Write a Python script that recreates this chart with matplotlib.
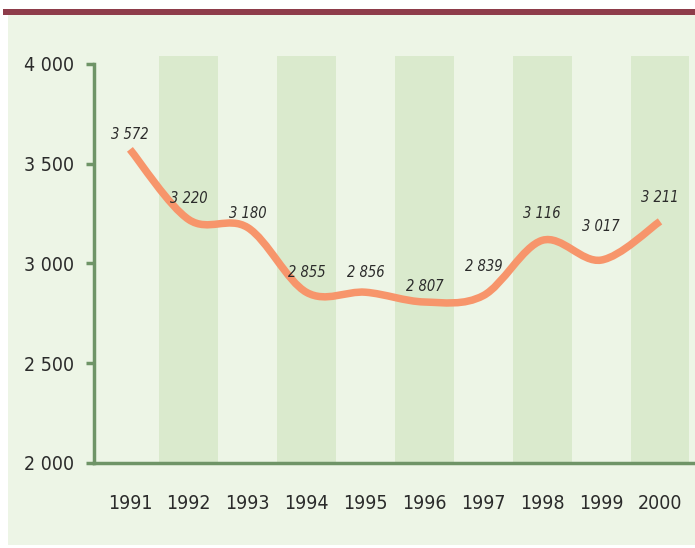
import numpy as np
import matplotlib.pyplot as plt
from matplotlib.path import Path
from matplotlib.patches import PathPatch, Rectangle
from matplotlib import font_manager

years = ['1991', '1992', '1993', '1994', '1995', '1996', '1997', '1998', '1999', '2000']
values = [3572, 3220, 3180, 2855, 2856, 2807, 2839, 3116, 3017, 3211]
value_labels = ['3 572', '3 220', '3 180', '2 855', '2 856', '2 807', '2 839', '3 116', '3 017', '3 211']
yticks = [2000, 2500, 3000, 3500, 4000]
ytick_labels = ['2 000', '2 500', '3 000', '3 500', '4 000']

# label offsets above each point (points) - layout only
label_dy = [11, 15, 10, 14, 14, 11, 21, 19, 24, 17]

fp = font_manager.FontProperties(family='DejaVu Sans', stretch='condensed', size=14)
fpi = font_manager.FontProperties(family='DejaVu Sans', stretch='condensed', style='italic', size=10.5)
bg = '#edf5e6'
band = '#daeacd'
green = '#6f9467'
line_col = '#f7956b'
txt = '#2b2b2b'

fig = plt.figure(figsize=(6.95, 5.48), dpi=100)
fig.patch.set_facecolor('white')
fig.add_artist(Rectangle((8/695, 3/548), 1 - 8/695, 530/548, transform=fig.transFigure,
                         facecolor=bg, edgecolor='none', zorder=-2))
fig.add_artist(Rectangle((3/695, 533/548), 1 - 3/695, 6/548, transform=fig.transFigure,
                         facecolor='#8e3c4a', edgecolor='none', zorder=-1))

ax = fig.add_axes([94/695, 85/548, 599/695, 407/548])
ax.set_facecolor('none')

x = np.arange(len(years))
ax.set_xlim(-0.61, 9.56)
ax.set_ylim(2000, 4040)

# alternating bands
for i in x[1::2]:
    ax.axvspan(i - 0.5, i + 0.5, ymin=0, ymax=1, color=band, lw=0, zorder=0)

# smooth curve through points (Catmull-Rom as cubic Bezier)
pts = np.column_stack([x, values]).astype(float)
ext = np.vstack([pts[0], pts, pts[-1]])
verts = [tuple(pts[0])]
codes = [Path.MOVETO]
for i in range(len(pts) - 1):
    p0, p1, p2, p3 = ext[i], ext[i + 1], ext[i + 2], ext[i + 3]
    c1 = p1 + (p2 - p0) / 6
    c2 = p2 - (p3 - p1) / 6
    verts += [tuple(c1), tuple(c2), tuple(p2)]
    codes += [Path.CURVE4] * 3
ax.add_patch(PathPatch(Path(verts, codes), facecolor='none', edgecolor=line_col,
                       lw=5.4, capstyle='butt', zorder=3))

for xi, v, lab, dy in zip(x, values, value_labels, label_dy):
    ax.annotate(lab, (xi, v), xytext=(0, dy), textcoords='offset points',
                ha='center', va='center', fontproperties=fpi, color=txt, zorder=4)

for s in ['top', 'right']:
    ax.spines[s].set_visible(False)
ax.spines['left'].set_bounds(2000, 4000)
for s in ['left', 'bottom']:
    ax.spines[s].set_color(green)
    ax.spines[s].set_linewidth(2.5)

ax.set_yticks(yticks)
ax.set_yticklabels(ytick_labels, fontproperties=fp, color=txt)
ax.tick_params(axis='y', length=6, width=2.5, color=green, pad=8)
ax.set_xticks(x)
ax.set_xticklabels(years, fontproperties=fp, color=txt)
ax.tick_params(axis='x', length=0, pad=22)

fig.savefig('out.png', dpi=100)
